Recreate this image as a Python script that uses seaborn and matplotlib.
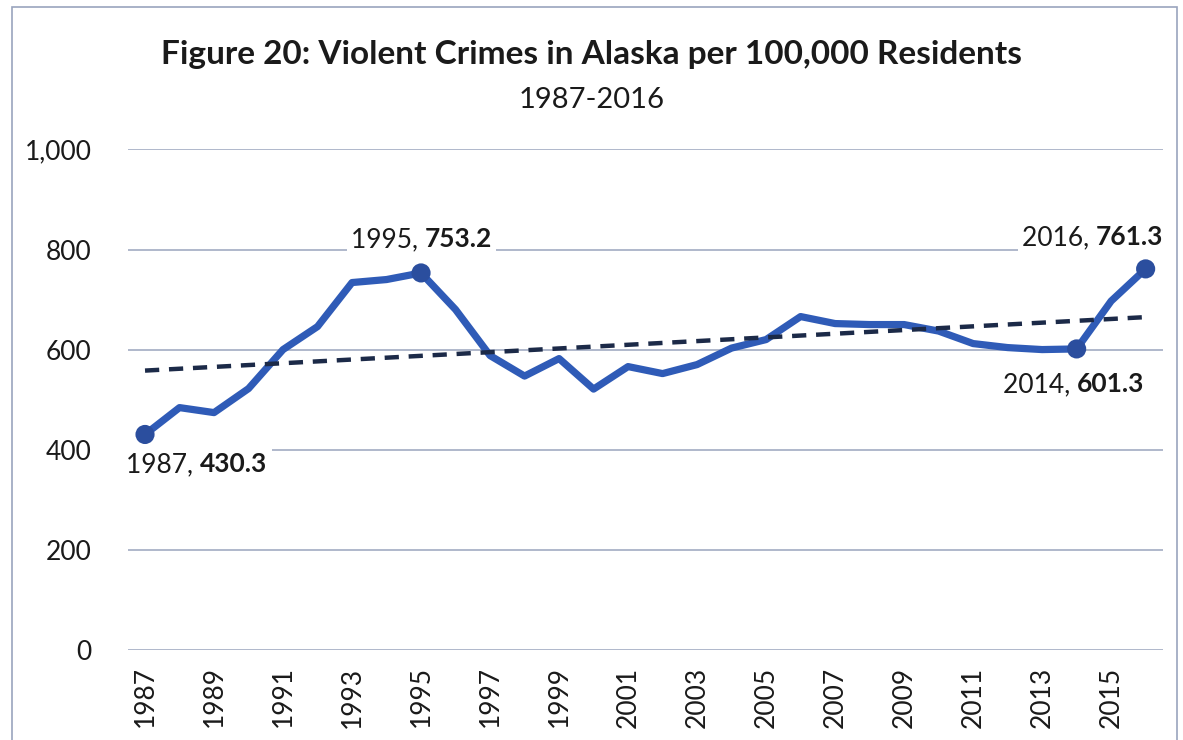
import numpy as np
import pandas as pd
import matplotlib.pyplot as plt
import seaborn as sns

# values (violent crimes per 100,000 residents)
years = list(range(1987, 2017))
rates = [430.3, 484, 474, 522, 600, 646, 734, 740, 753.2, 680,
         588, 547, 582, 521, 566, 552, 570, 603, 620, 666,
         652, 650, 650, 637, 612, 604, 600, 601.3, 697, 761.3]
labeled_years = [1987, 1995, 2014, 2016]
tick_years = years[::2]

data = pd.DataFrame({"Year": years, "Rate": rates})

sns.set_theme(style="white")
plt.rcParams["font.family"] = ["Lato", "DejaVu Sans"]

fig = plt.figure(figsize=(11.83, 7.4), dpi=100)
ax = fig.add_axes([0.108, 0.122, 0.875, 0.676])

# main series
sns.lineplot(x="Year", y="Rate", data=data, ax=ax, color="#2F5BB7",
             linewidth=5.2, solid_joinstyle="round", zorder=3)

# linear trendline
sns.regplot(x="Year", y="Rate", data=data, ax=ax, scatter=False, ci=None,
            line_kws={"color": "#1C2A48", "linewidth": 3.2, "linestyle": (0, (3.2, 2.2)),
                      "zorder": 4})

# highlighted points with labels
pts = data[data["Year"].isin(labeled_years)]
sns.scatterplot(x="Year", y="Rate", data=pts, ax=ax, color="#2B4E9E",
                s=190, edgecolor="none", zorder=5)

# (x shift in years, y shift in data units) of the label split point
offsets = {1987: (1.6, -60), 1995: (0.1, 67), 2014: (0.0, -71), 2016: (-1.45, 63)}
box = dict(facecolor="white", edgecolor="none", pad=3)
for yr, val in zip(pts["Year"], pts["Rate"]):
    dx, dy = offsets[yr]
    txt = ax.text(yr + dx, val + dy, f"{yr}, ", ha="right", va="center",
                  fontsize=19, color="#1a1a1a", zorder=6, bbox=box)
    ax.annotate(f"{val:.1f}", xy=(1, 0.5), xycoords=txt, ha="left", va="center",
                fontsize=19, fontweight="bold", color="#1a1a1a", zorder=6, bbox=box)

ax.set_xlim(1986.5, 2016.5)
ax.set_ylim(0, 1000)
ax.set_yticks([0, 200, 400, 600, 800, 1000])
ax.set_yticklabels(["0", "200", "400", "600", "800", "1,000"], fontsize=19)
ax.set_xticks(tick_years)
ax.set_xticklabels([str(y) for y in tick_years], rotation=90, fontsize=19)
ax.tick_params(axis="both", length=0, pad=12, colors="#1a1a1a")
ax.tick_params(axis="y", pad=26)
ax.grid(axis="y", color="#9aa4bd", linewidth=1.1)
ax.set_axisbelow(True)
ax.set_xlabel("")
ax.set_ylabel("")
sns.despine(ax=ax, left=True, bottom=True)

fig.text(0.5, 0.926, "Figure 20: Violent Crimes in Alaska per 100,000 Residents",
         ha="center", va="center", fontsize=24, fontweight="bold", color="#1a1a1a")
fig.text(0.5, 0.865, "1987-2016", ha="center", va="center", fontsize=21, color="#1a1a1a")

# thin chart-area border
fig.patches.append(plt.Rectangle((0.01, -0.05), 0.985, 1.04, transform=fig.transFigure,
                                 fill=False, edgecolor="#9aa4bd", linewidth=1.2))

fig.savefig("out.png", dpi=100)
